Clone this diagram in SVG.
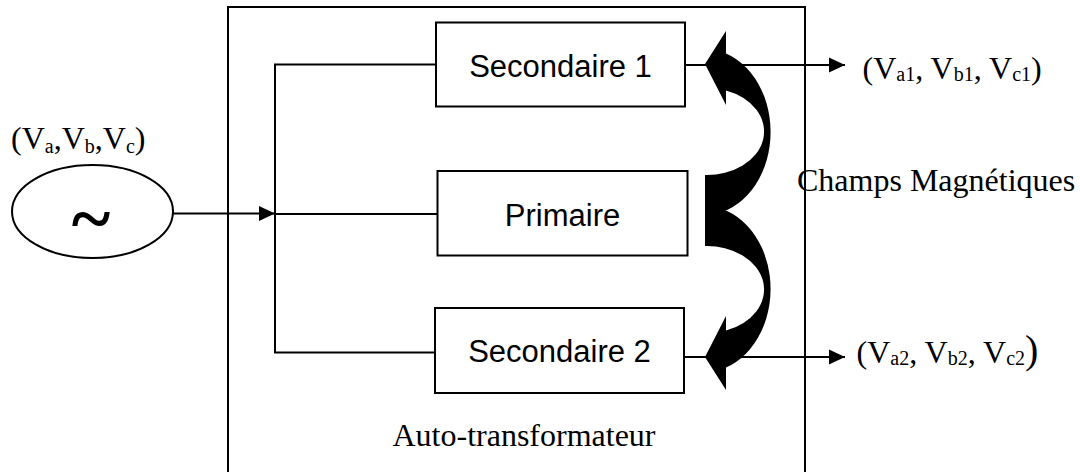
<svg xmlns="http://www.w3.org/2000/svg" width="1080" height="472" viewBox="0 0 1080 472">
<defs>
<marker id="arr" markerUnits="userSpaceOnUse" markerWidth="16" markerHeight="16" viewBox="0 0 16 16" refX="16" refY="8" orient="auto">
<path d="M0,0.5 L16,8 L0,15.5 Z" fill="#000"/>
</marker>
</defs>
<style>
.box{fill:#fff;stroke:#000;stroke-width:2}
.ln{fill:none;stroke:#000;stroke-width:2}
.sans{font-family:"Liberation Sans",Arial,sans-serif;font-size:31px;fill:#000;text-anchor:middle}
.serif{font-family:"Liberation Serif","Times New Roman",serif;font-size:32px;fill:#000}
.sub{font-size:20px}
</style>
<rect width="1080" height="472" fill="#fff"/>
<g id="autotransformateur">
<rect x="228" y="7" width="577" height="480" class="box" fill="none"/>
<text x="392.5" y="446" class="serif">Auto-transformateur</text>
</g>
<g id="source">
<ellipse cx="92.5" cy="211.5" rx="80.5" ry="46.5" class="box"/>
<text x="91" y="243" font-family="Liberation Serif, serif" font-weight="bold" font-size="74" text-anchor="middle">~</text>
<text x="11" y="149" class="serif">(V<tspan class="sub" dy="4">a</tspan><tspan dy="-4">,V</tspan><tspan class="sub" dy="4">b</tspan><tspan dy="-4">,V</tspan><tspan class="sub" dy="4">c</tspan><tspan dy="-4">)</tspan></text>
</g>
<g id="connectors">
<path class="ln" d="M173,213.5 H275" marker-end="url(#arr)"/>
<path class="ln" d="M436,64.5 H275 V352.5 H435"/>
<path class="ln" d="M275,214 H437"/>
<path class="ln" d="M685,65 H845" marker-end="url(#arr)"/>
<path class="ln" d="M684,357 H845" marker-end="url(#arr)"/>
</g>
<g id="secondaire1">
<rect x="436" y="22.5" width="249" height="84" class="box"/>
<text x="560.5" y="76.5" class="sans">Secondaire 1</text>
</g>
<g id="primaire">
<rect x="437.5" y="171" width="250" height="84.5" class="box"/>
<text x="562.5" y="225.5" class="sans">Primaire</text>
</g>
<g id="secondaire2">
<rect x="435" y="308" width="249" height="85" class="box"/>
<text x="559.5" y="361.5" class="sans">Secondaire 2</text>
</g>
<g id="champs">
<path fill="#000" d="M726,31 L705,64 L726,105 L726,90.5 A57,43.5 0 0 1 705,175 L705,215 A66,83 0 0 0 726,53.5 Z"/>
<path fill="#000" d="M726,390 L705,357 L726,316 L726,330.5 A57,43.5 0 0 0 705,246 L705,206 A66,83 0 0 1 726,367.5 Z"/>
<text x="797" y="191" class="serif">Champs Magnétiques</text>
</g>
<g id="sorties">
<text x="862.5" y="79" class="serif">(V<tspan class="sub" dy="2">a1</tspan><tspan dy="-2">, V</tspan><tspan class="sub" dy="2">b1</tspan><tspan dy="-2">, V</tspan><tspan class="sub" dy="2">c1</tspan><tspan dy="-2">)</tspan></text>
<text x="856.5" y="363" class="serif">(V<tspan class="sub" dy="2">a2</tspan><tspan dy="-2">, V</tspan><tspan class="sub" dy="2">b2</tspan><tspan dy="-2">, V</tspan><tspan class="sub" dy="2">c2</tspan><tspan dy="-2" font-size="40">)</tspan></text>
</g>
</svg>
